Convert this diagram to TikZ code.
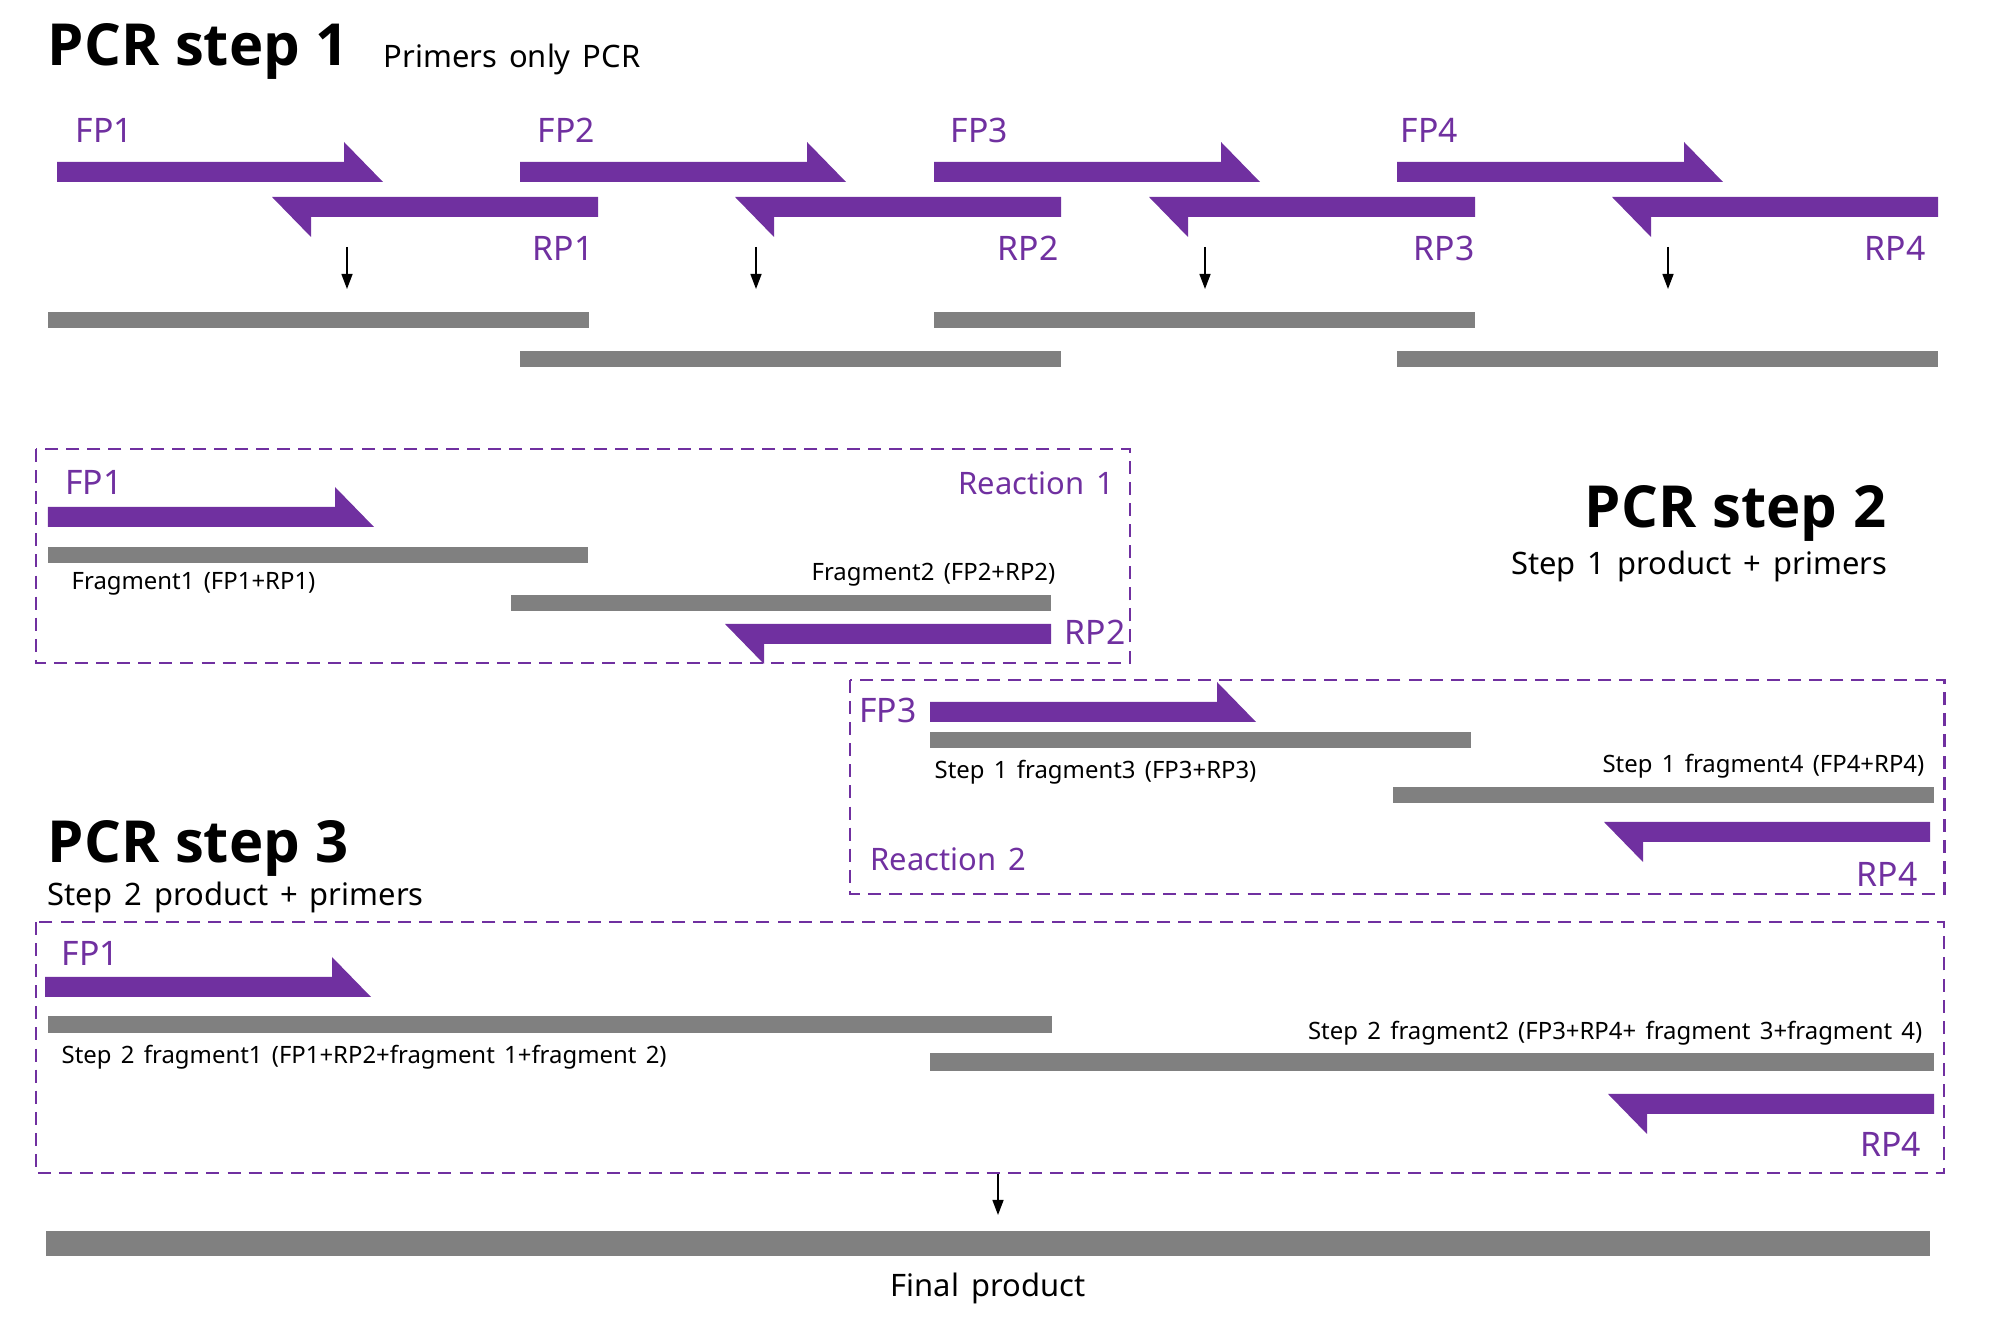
\documentclass[tikz,border=0pt]{standalone}
\usepackage{fontspec}
\setmainfont[WordSpace=1.5]{Noto Sans}
\newfontfamily\titlefont[WordSpace=1.05]{Open Sans}
\usetikzlibrary{arrows.meta,positioning}
\definecolor{primerpurple}{HTML}{7030A0}
\definecolor{bargray}{HTML}{808080}
\tikzset{
  >={Stealth[length=1.5mm,width=1.1mm,inset=0pt]},
  title/.style={font=\titlefont\fontsize{16.5}{20}\selectfont\bfseries, inner sep=0pt},
  subtitle/.style={font=\fontsize{8.8}{11}\selectfont, inner sep=0pt},
  plabel/.style={text=primerpurple, font=\fontsize{9.6}{12}\selectfont, inner sep=0pt},
  rlabel/.style={text=primerpurple, font=\fontsize{8.8}{11}\selectfont, inner sep=0pt},
  flabel/.style={font=\fontsize{6.8}{8}\selectfont, inner sep=0pt},
  dnabar/.style={fill=bargray, inner sep=0pt, outer sep=0pt,
    minimum height=0.16cm, anchor=north west},
  rbox/.style={draw=primerpurple, line width=0.65pt,
    dash pattern=on 3.7pt off 2.3pt},
  down/.style={->, line width=0.4pt},
  fwdprimer/.pic={
    \fill[primerpurple] (0,0) -- (3.26,0) -- (2.87,0.40) -- (2.87,0.20)
      -- (0,0.20) -- cycle;
  },
  revprimer/.pic={
    \fill[primerpurple] (0,0) -- (-3.26,0) -- (-2.87,-0.40) -- (-2.87,-0.20)
      -- (0,-0.20) -- cycle;
  },
}
\begin{document}
\begin{tikzpicture}
  \useasboundingbox (0,0) rectangle (20,-13.26);

  % PCR step 1
  \node[title, anchor=base west] (t1) at (0.47,-0.66) {PCR step 1};
  \node[subtitle, anchor=base west] (t1s) at (3.83,-0.68) {Primers only PCR};

  \foreach \i/\xf/\lf/\xr/\lr in {1/0.57/0.75/5.98/5.94, 2/5.20/5.37/10.61/10.59,
                                  3/9.34/9.50/14.75/14.75, 4/13.97/14.00/19.38/19.26} {
    \pic at (\xf,-1.82) {fwdprimer};
    \node[plabel, anchor=base west] (fp\i) at (\lf,-1.43) {FP\i};
    \pic at (\xr,-1.97) {revprimer};
    \node[plabel, anchor=base east] (rp\i) at (\lr,-2.61) {RP\i};
  }

  \foreach \i/\x in {1/3.47, 2/7.56, 3/12.05, 4/16.68} {
    \coordinate (a\i) at (\x,-2.47);
    \coordinate (b\i) at (\x,-2.89);
    \draw[down] (a\i) -- (b\i);
  }

  \node[dnabar, minimum width=5.41cm] (p1) at (0.48,-3.12) {};
  \node[dnabar, minimum width=5.41cm] (p3) at (9.34,-3.12) {};
  \node[dnabar, minimum width=5.41cm] (p2) at (5.20,-3.51) {};
  \node[dnabar, minimum width=5.41cm] (p4) at (13.97,-3.51) {};

  % PCR step 2
  \node[title, anchor=base east] (t2) at (18.87,-5.28) {PCR step 2};
  \node[subtitle, anchor=base east] (t2s) at (18.88,-5.75) {Step 1 product + primers};

  \draw[rbox] (0.36,-4.49) rectangle (11.30,-6.63);
  \node[rlabel, anchor=base east] (re1) at (11.15,-4.95) {Reaction 1};
  \node[plabel, anchor=base west] (r1fp) at (0.645,-4.95) {FP1};
  \pic at (0.48,-5.27) {fwdprimer};
  \node[dnabar, minimum width=5.40cm] (f1) at (0.48,-5.47) {};
  \node[flabel, anchor=base west] (f1l) at (0.71,-5.90) {Fragment1 (FP1+RP1)};
  \node[flabel, anchor=base east] (f2l) at (10.56,-5.81) {Fragment2 (FP2+RP2)};
  \node[dnabar, minimum width=5.40cm] (f2) at (5.11,-5.95) {};
  \pic at (10.51,-6.24) {revprimer};
  \node[plabel, anchor=base east] (r1rp) at (11.26,-6.45) {RP2};

  \draw[rbox] (8.50,-6.80) rectangle (19.445,-8.94);
  \node[plabel, anchor=base west] (r2fp) at (8.585,-7.23) {FP3};
  \pic at (9.30,-7.22) {fwdprimer};
  \node[dnabar, minimum width=5.41cm] (f3) at (9.30,-7.32) {};
  \node[flabel, anchor=base west] (f3l) at (9.34,-7.79) {Step 1 fragment3 (FP3+RP3)};
  \node[flabel, anchor=base east] (f4l) at (19.25,-7.73) {Step 1 fragment4 (FP4+RP4)};
  \node[dnabar, minimum width=5.405cm] (f4) at (13.93,-7.87) {};
  \pic at (19.30,-8.22) {revprimer};
  \node[rlabel, anchor=base west] (re2) at (8.70,-8.71) {Reaction 2};
  \node[plabel, anchor=base east] (r2rp) at (19.18,-8.87) {RP4};

  % PCR step 3
  \node[title, anchor=base west] (t3) at (0.47,-8.63) {PCR step 3};
  \node[subtitle, anchor=base west] (t3s) at (0.47,-9.06) {Step 2 product + primers};

  \draw[rbox] (0.357,-9.22) rectangle (19.44,-11.73);
  \node[plabel, anchor=base west] (s3fp) at (0.61,-9.66) {FP1};
  \pic at (0.45,-9.97) {fwdprimer};
  \node[dnabar, minimum width=10.04cm, minimum height=0.17cm] (g1) at (0.48,-10.16) {};
  \node[flabel, anchor=base west] (g1l) at (0.61,-10.64)
    {Step 2 fragment1 (FP1+RP2+fragment 1+fragment 2)};
  \node[flabel, anchor=base east] (g2l) at (19.23,-10.40)
    {Step 2 fragment2 (FP3+RP4+ fragment 3+fragment 4)};
  \node[dnabar, minimum width=10.04cm, minimum height=0.18cm] (g2) at (9.30,-10.53) {};
  \pic at (19.34,-10.94) {revprimer};
  \node[plabel, anchor=base east] (s3rp) at (19.215,-11.57) {RP4};

  \coordinate (a5) at (9.98,-11.74);
  \coordinate (b5) at (9.98,-12.15);
  \draw[down] (a5) -- (b5);

  \node[dnabar, minimum width=18.84cm, minimum height=0.25cm] (fin) at (0.46,-12.31) {};
  \node[subtitle, anchor=base] (finl) at (9.88,-12.97) {Final product};
\end{tikzpicture}
\end{document}
